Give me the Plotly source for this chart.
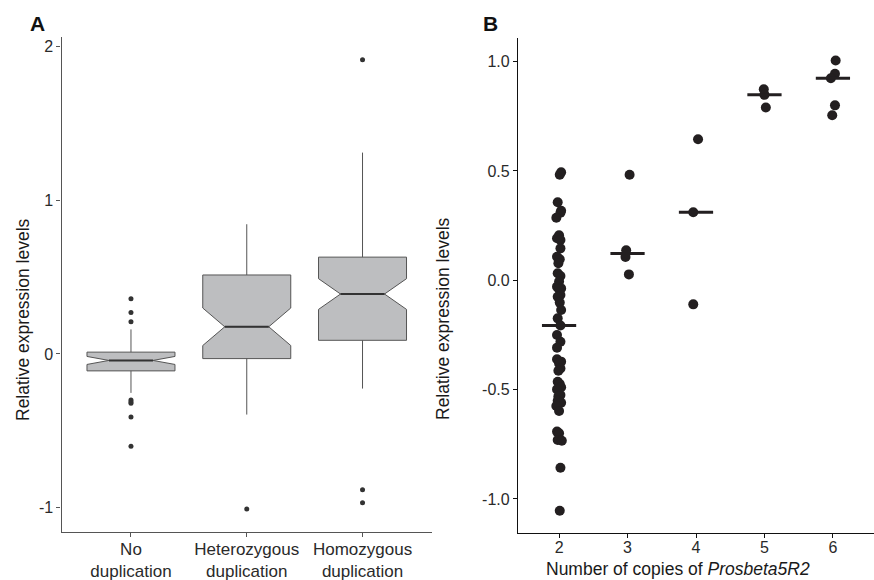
import numpy as np
import plotly.graph_objects as go

# ---------------- Panel A data (box plot, precomputed stats) ----------------
cat_pos = [0, 1, 2]
cat_labels = ["No<br>duplication", "Heterozygous<br>duplication", "Homozygous<br>duplication"]
a_q1 = [-0.11, -0.03, 0.089]
a_median = [-0.042, 0.177, 0.39]
a_q3 = [0.012, 0.514, 0.63]
a_lowerfence = [-0.253, -0.394, -0.225]
a_upperfence = [0.16, 0.844, 1.31]
a_notchspan = [0.026, 0.122, 0.10]
a_outliers_nodup = [0.36, 0.27, 0.21, -0.30, -0.31, -0.32, -0.41, -0.60]
a_outliers_het = [-1.008]
a_outliers_hom = [1.914, -0.883, -0.968]

# ---------------- Panel B data (dot plot) ----------------
b_copies2_x = [2.03, 2.01, 1.98, 2.03, 2.02, 1.96, 2.00, 1.97, 2.02, 2.02, 1.97, 2.01, 1.99,
               1.98, 2.02, 2.00, 1.97, 2.03, 2.00, 2.02, 1.98, 2.01, 2.03, 1.98, 2.02, 1.97,
               2.02, 1.97, 1.97, 2.03, 2.00, 2.02, 1.99, 1.98, 2.01, 2.03, 1.97, 2.02, 1.99,
               1.98, 2.03, 1.96, 2.00, 1.97, 2.00, 1.98, 2.04, 2.02, 2.01]
b_copies2_y = [0.494, 0.483, 0.357, 0.318, 0.309, 0.286, 0.206, 0.192, 0.184, 0.146, 0.108,
               0.096, 0.078, 0.032, 0.020, -0.006, -0.029, -0.037, -0.041, -0.067, -0.075,
               -0.102, -0.136, -0.174, -0.207, -0.25, -0.281, -0.308, -0.361, -0.372, -0.38,
               -0.403, -0.414, -0.464, -0.474, -0.489, -0.499, -0.525, -0.53, -0.551, -0.56,
               -0.575, -0.598, -0.692, -0.70, -0.73, -0.734, -0.857, -1.054]
b_copies3_x = [3.03, 2.98, 2.97, 3.02]
b_copies3_y = [0.483, 0.137, 0.107, 0.027]
b_copies4_x = [4.03, 3.96, 3.96]
b_copies4_y = [0.645, 0.311, -0.11]
b_copies5_x = [4.99, 5.00, 5.02]
b_copies5_y = [0.874, 0.848, 0.79]
b_copies6_x = [6.04, 6.03, 5.97, 6.03, 5.99]
b_copies6_y = [1.005, 0.944, 0.924, 0.80, 0.755]
b_groups = [2, 3, 4, 5, 6]

W, H = 874, 580
FONT = "Liberation Sans, Arial, Helvetica, sans-serif"
BOX_FILL = "#bdbec0"
BOX_LINE = "#555555"
DOT = "#231f20"

fig = go.Figure()

# Panel A boxes
box_width = 0.76
notch_w = 0.25
fig.add_trace(go.Box(
    x=cat_pos, q1=a_q1, median=a_median, q3=a_q3,
    lowerfence=a_lowerfence, upperfence=a_upperfence, notchspan=a_notchspan,
    notched=True, notchwidth=notch_w, width=box_width, whiskerwidth=0,
    orientation="v", boxpoints=False,
    fillcolor=BOX_FILL, line=dict(color=BOX_LINE, width=1),
    xaxis="x", yaxis="y", hoverinfo="skip"))

# darker median segments spanning the notch waist
half_inner = box_width / 2 * (1 - 2 * notch_w)
for p, m in zip(cat_pos, a_median):
    fig.add_trace(go.Scatter(x=[p - half_inner, p + half_inner], y=[m, m], mode="lines",
                             line=dict(color="#333333", width=2),
                             xaxis="x", yaxis="y", hoverinfo="skip"))

# outliers
for p, vals in zip(cat_pos, [a_outliers_nodup, a_outliers_het, a_outliers_hom]):
    fig.add_trace(go.Scatter(x=[p] * len(vals), y=vals, mode="markers",
                             marker=dict(color="#333333", size=5),
                             xaxis="x", yaxis="y", hoverinfo="skip"))

# Panel B dots and median bars
b_xs = [b_copies2_x, b_copies3_x, b_copies4_x, b_copies5_x, b_copies6_x]
b_ys = [b_copies2_y, b_copies3_y, b_copies4_y, b_copies5_y, b_copies6_y]
for g, xs, ys in zip(b_groups, b_xs, b_ys):
    fig.add_trace(go.Scatter(x=xs, y=ys, mode="markers",
                             marker=dict(color=DOT, size=10),
                             xaxis="x2", yaxis="y2", hoverinfo="skip"))
for g, ys in zip(b_groups, b_ys):
    m = float(np.median(ys))
    fig.add_trace(go.Scatter(x=[g - 0.25, g + 0.25], y=[m, m], mode="lines",
                             line=dict(color=DOT, width=3),
                             xaxis="x2", yaxis="y2", hoverinfo="skip"))

def px_x(p):
    return p / W

def px_y(p):
    return 1 - p / H

axis_common = dict(showgrid=False, zeroline=False, showline=True, ticks="outside",
                   ticklen=4, tickwidth=1, automargin=False)

fig.update_layout(
    width=W, height=H, margin=dict(l=0, r=0, t=0, b=0, autoexpand=False),
    paper_bgcolor="white", plot_bgcolor="white", showlegend=False,
    font=dict(family=FONT, color="#222222"),
    xaxis=dict(domain=[px_x(61.5), px_x(432)], range=[-0.6, 2.6],
               tickvals=cat_pos, ticktext=cat_labels,
               tickfont=dict(size=17, color="#2a2a2a"), linecolor="#555555",
               linewidth=1.2, tickcolor="#555555", anchor="y",
               ticklabelstandoff=-3, **axis_common),
    yaxis=dict(domain=[px_y(532), px_y(37)], range=[-1.158, 2.062],
               tickvals=[-1, 0, 1, 2], ticktext=["-1", "0", "1", "2"],
               tickfont=dict(size=16, color="#2a2a2a"), linecolor="#555555",
               linewidth=1.2, tickcolor="#555555", anchor="x", **axis_common),
    xaxis2=dict(domain=[px_x(518), 1.0], range=[1.4, 6.6],
                tickvals=[2, 3, 4, 5, 6], ticktext=["2", "3", "4", "5", "6"],
                tickfont=dict(size=16, color="#2a2a2a"), linecolor="#111111",
                linewidth=1.2, tickcolor="#111111", anchor="y2",
                ticklabelstandoff=-5, **axis_common),
    yaxis2=dict(domain=[px_y(533.3), px_y(38)], range=[-1.157, 1.108],
                tickvals=[-1.0, -0.5, 0.0, 0.5, 1.0],
                ticktext=["-1.0", "-0.5", "0.0", "0.5", "1.0"],
                tickfont=dict(size=16, color="#2a2a2a"), linecolor="#111111",
                linewidth=1.2, tickcolor="#111111", anchor="x2", **axis_common),
)

ann = [
    dict(text="<b>A</b>", x=px_x(37), y=px_y(24), font=dict(size=21, color="#111111"),
         yanchor="middle"),
    dict(text="<b>B</b>", x=px_x(490), y=px_y(24), font=dict(size=21, color="#111111"),
         yanchor="middle"),
    dict(text="Relative expression levels", x=px_x(23), y=px_y(320), textangle=-90,
         font=dict(size=17.5, color="#1a1a1a"), yanchor="middle"),
    dict(text="Relative expression levels", x=px_x(443), y=px_y(319), textangle=-90,
         font=dict(size=17.5, color="#1a1a1a"), yanchor="middle"),
    dict(text="Number of copies of <i>Prosbeta5R2</i>", x=px_x(678), y=px_y(557),
         font=dict(size=17.5, color="#1a1a1a"), yanchor="top"),
]
for a in ann:
    a.update(xref="paper", yref="paper", showarrow=False, xanchor="center")
fig.update_layout(annotations=ann)

fig.write_html("out.html")
